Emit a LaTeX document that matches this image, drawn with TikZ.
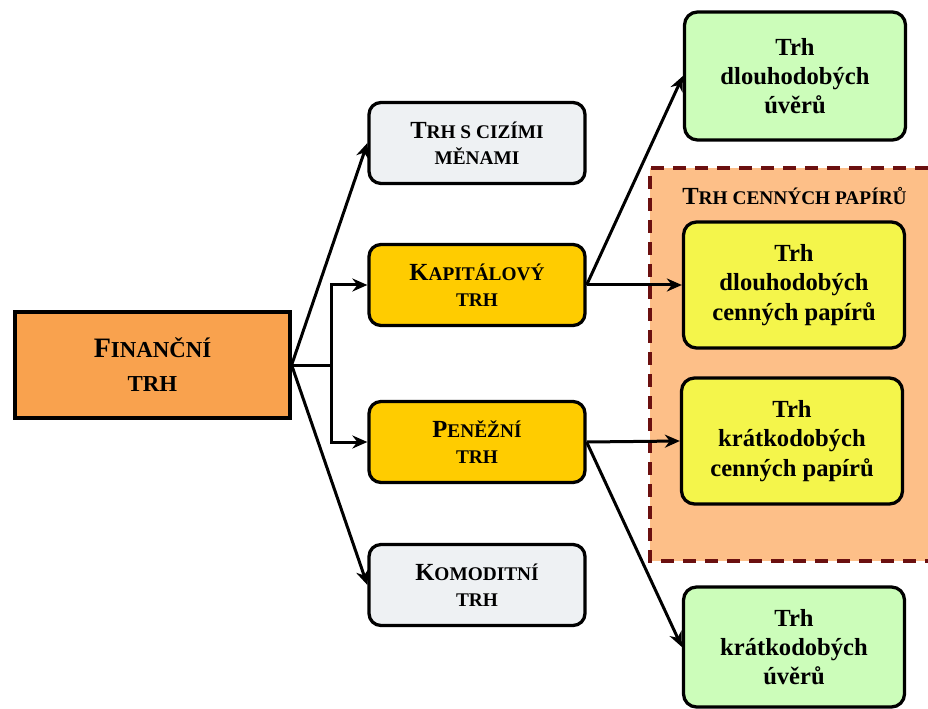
\documentclass[tikz,border=0pt]{standalone}
\usepackage{fontspec}
\setmainfont{Liberation Serif}
\usetikzlibrary{arrows.meta}

% Small capitals made by hand (the font has none).
\newcommand{\smc}[1]{{\fontsize{11}{14}\selectfont #1}}
\newcommand{\smcbig}[1]{{\fontsize{13}{16}\selectfont #1}}

\definecolor{finorange}{HTML}{F9A24E}
\definecolor{marketgray}{HTML}{EEF1F3}
\definecolor{marketgold}{HTML}{FFCC00}
\definecolor{loangreen}{HTML}{CCFDBA}
\definecolor{secyellow}{HTML}{F4F54B}
\definecolor{secarea}{HTML}{FDBF88}
\definecolor{secborder}{HTML}{6B1010}

\begin{document}
\begin{tikzpicture}[%
        > = {Stealth[length=3mm,width=2.6mm]},
        line width = 0.6mm,
        market/.style = {draw, line width = 0.65mm, rounded corners = 2.4mm,
            align = center, inner sep = 0pt,
            minimum width = 4.32cm, minimum height = 1.62cm,
            font = \bfseries\fontsize{14}{14.7}\selectfont},
        sub/.style = {draw, line width = 0.65mm, rounded corners = 2.6mm,
            align = center, inner sep = 0pt,
            minimum width = 4.42cm, minimum height = 2.52cm,
            font = \bfseries\fontsize{14}{16.7}\selectfont}
    ]

        \useasboundingbox (0,0) rectangle (18.56,-14.18);

        % Coordinates for the corners of the securities area.
        \coordinate (S1) at (18.56,-3.36);
        \coordinate (S2) at (13.00,-3.36);
        \coordinate (S3) at (13.00,-11.22);
        \coordinate (S4) at (18.56,-11.22);

        % Securities area (cut at the right edge).
        \fill[secarea] (S1) rectangle (S3);
        \draw[secborder, line width = 0.65mm, dash pattern = on 2.6mm off 1.8mm]
            (S1) -- (S2) -- (S3) -- (S4);
        \node[font = \bfseries\fontsize{14}{16}\selectfont] (sectitle)
            at (15.89,-3.92) {T\smc{RH CENNÝCH PAPÍRŮ}};

        % Root.
        \node[draw, line width = 0.65mm, fill = finorange, align = center,
            minimum width = 5.5cm, minimum height = 2.12cm, inner sep = 0pt,
            font = \bfseries\fontsize{16}{19.3}\selectfont]
            (fin) at (3.05,-7.30) {F\smcbig{INANČNÍ}\\\smcbig{TRH}};

        % Markets.
        \node[market, fill = marketgray] (ciz) at (9.54,-2.86)
            {T\smc{RH S CIZÍMI}\\\smc{MĚNAMI}};
        \node[market, fill = marketgold] (kap) at (9.54,-5.70)
            {K\smc{APITÁLOVÝ}\\\smc{TRH}};
        \node[market, fill = marketgold] (pen) at (9.54,-8.84)
            {P\smc{ENĚŽNÍ}\\\smc{TRH}};
        \node[market, fill = marketgray] (kom) at (9.54,-11.70)
            {K\smc{OMODITNÍ}\\\smc{TRH}};

        % Sub-markets.
        \node[sub, fill = loangreen, minimum height = 2.56cm] (dlu) at (15.90,-1.52)
            {Trh\\dlouhodobých\\úvěrů};
        \node[sub, fill = secyellow] (dcp) at (15.88,-5.70)
            {Trh\\dlouhodobých\\cenných papírů};
        \node[sub, fill = secyellow] (kcp) at (15.84,-8.82)
            {Trh\\krátkodobých\\cenných papírů};
        \node[sub, fill = loangreen, minimum height = 2.40cm] (kru) at (15.88,-12.94)
            {Trh\\krátkodobých\\úvěrů};

        % Connectors.
        \draw[->] (fin.east) -- (ciz.west);
        \draw[->] (fin.east) -- ++(0.8,0) |- (kap.west);
        \draw[->] (fin.east) -- ++(0.8,0) |- (pen.west);
        \draw[->] (fin.east) -- (kom.west);

        \draw[->] (kap.east) -- (dlu.west);
        \draw[->] (kap.east) -- (dcp.west);
        \draw[->] (pen.east) -- (kcp.west);
        \draw[->] (pen.east) -- (kru.west);
    \end{tikzpicture}
\end{document}
